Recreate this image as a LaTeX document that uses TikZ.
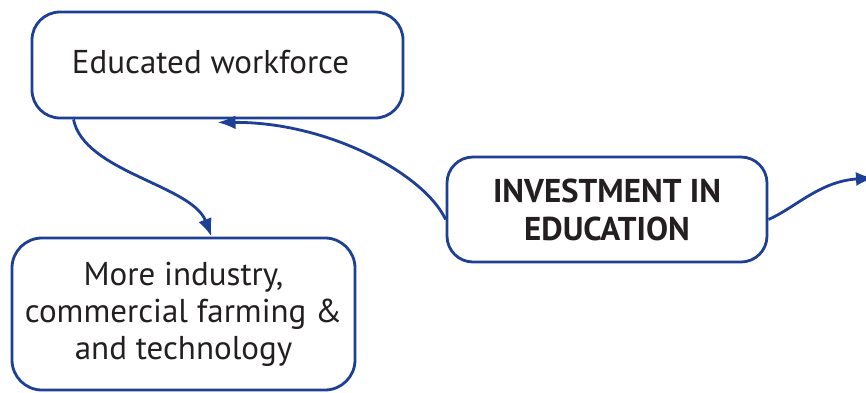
\documentclass[tikz,border=0pt]{standalone}
\usepackage{fontspec}
\setmainfont{PT Sans}
\usetikzlibrary{arrows.meta}
\definecolor{dblue}{HTML}{1E3F96}
\definecolor{tgray}{HTML}{231F20}
\tikzset{
  box/.style={draw=dblue, line width=2.8pt, rounded corners=28pt, fill=white, align=center, text=tgray, font=\fontsize{33}{37}\selectfont, inner sep=0pt},
  conn/.style={draw=dblue, line width=2.8pt, -{Latex[length=18pt,width=14pt]}}
}
\begin{document}
\begin{tikzpicture}[x=1pt,y=-1pt]
\clip (0,0) rectangle (866,392);
\fill[white] (0,0) rectangle (866,392);
\node[box, minimum width=371pt, minimum height=106pt] (edu) at (217.5,65) {\raisebox{6pt}{Educated workforce}\hspace{14pt}};
\node[box, minimum width=320pt, minimum height=105pt, rounded corners=26pt, font=\fontsize{33}{38}\selectfont\bfseries] (inv) at (607,209.5) {INVESTMENT IN\\EDUCATION};
\node[box, minimum width=343pt, minimum height=152pt, rounded corners=30pt] (ind) at (183.5,314) {More industry,\\commercial farming \&\\and technology};
\coordinate (out) at (874,178);
\draw[conn] ([yshift=-10pt]inv.west) .. controls (425,175) and (330,122) .. ([yshift=-3pt]edu.south);
\draw[conn] ([xshift=-144pt]edu.south) .. controls (84,172) and (192,185) .. ([xshift=28pt]ind.north);
\draw[conn] ([yshift=-10pt]inv.east) .. controls (795,208) and (820,181) .. (out);
\end{tikzpicture}
\end{document}
